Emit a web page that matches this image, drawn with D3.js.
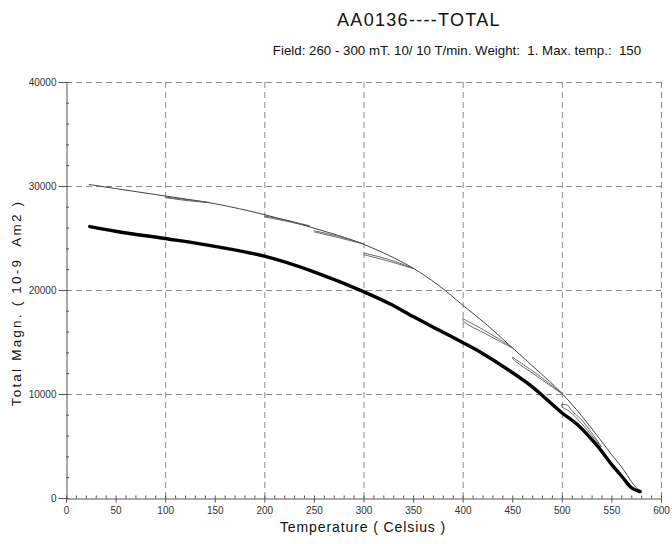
<!DOCTYPE html>
<html>
<head>
<meta charset="utf-8">
<script src="https://cdn.jsdelivr.net/npm/d3@7"></script>
<style>
  html, body { margin: 0; padding: 0; background: #fff; }
  svg { display: block; font-family: "Liberation Sans", Arial, sans-serif; }
</style>
</head>
<body>
<svg id="chart" width="672" height="544"></svg>
<script>
// ---- Data ----
const title = "AA0136----TOTAL";
const subtitle = "Field: 260 - 300 mT. 10/ 10 T/min. Weight:  1. Max. temp.:  150";
const xLabel = "Temperature ( Celsius )";
const yLabel = "Total Magn. ( 10-9  Am2 )";

const xTicks = [0, 50, 100, 150, 200, 250, 300, 350, 400, 450, 500, 550, 600];
const yTicks = [0, 10000, 20000, 30000, 40000];
const xGrid = [100, 200, 300, 400, 500, 600];
const yGrid = [10000, 20000, 30000, 40000];

// Thick curve (bold)
const thickT = [24, 50, 100, 150, 200, 250, 300, 327, 350, 377, 400, 420, 444, 468, 500, 518, 535, 552, 562, 569, 575, 579];
const thickM = [26100, 25650, 24950, 24200, 23250, 21750, 19840, 18650, 17450, 16100, 14950, 13900, 12450, 10850, 8200, 6860, 5100, 3010, 1900, 1090, 750, 620];

// Thin curve (main branch)
const thinT = [23, 50, 100, 150, 200, 250, 300, 325, 350, 375, 400, 425, 450, 475, 500, 520, 538, 550, 562, 570, 575, 580];
const thinM = [30150, 29750, 29040, 28300, 27250, 25950, 24400, 23350, 22100, 20500, 18550, 16600, 14450, 12300, 10070, 7900, 5700, 4200, 2750, 1600, 1000, 650];

// Thin loops (partial re-heating cycles): [T, M] points, out and back
const loop100 = [[100, 28940], [122, 28680], [145, 28400], [122, 28600], [100, 28880]];
const loop200 = [[200, 27120], [223, 26700], [246, 26150], [223, 26600], [200, 27040]];
const loop250 = [[250, 25700], [275, 25150], [300, 24430], [275, 25030], [250, 25600]];
const loop300 = [[300, 23560], [325, 22950], [350, 22080], [325, 22780], [300, 23400]];
const loop400 = [[400, 17250], [425, 15950], [451, 14400], [425, 15700], [401, 16980], [400, 17250]];
const loop450 = [[450, 13560], [475, 11900], [500, 10050], [475, 11700], [451, 13350], [450, 13560]];
const loop500 = [[500, 9000], [506, 8900], [510, 8400], [520, 7500], [540, 4900], [520, 7150], [508, 8300], [500, 8800], [500, 9000]];
const loops = [loop100, loop200, loop250, loop300, loop400, loop450, loop500];

// ---- Layout ----
const svg = d3.select("#chart");
const x = d3.scaleLinear().domain([0, 600]).range([66, 661]);
const y = d3.scaleLinear().domain([0, 40000]).range([498, 82]);

// Grid lines
const grid = svg.append("g").attr("stroke", "#8a8a8a").attr("stroke-width", 1).attr("stroke-dasharray", "6,4");
grid.selectAll("line.vg").data(xGrid).join("line")
  .attr("x1", d => x(d) + 0.5).attr("x2", d => x(d) + 0.5)
  .attr("y1", y(40000)).attr("y2", y(0));
grid.selectAll("line.hg").data(yGrid).join("line")
  .attr("x1", x(0)).attr("x2", x(600))
  .attr("y1", d => y(d) + 0.5).attr("y2", d => y(d) + 0.5);

// Axes
const axisColor = "#555";
const xAxis = svg.append("g").attr("transform", `translate(0,${y(0) + 0.5})`)
  .call(d3.axisBottom(x).tickValues(xTicks).tickSize(4).tickPadding(4).tickFormat(d3.format("d")));
const yAxis = svg.append("g").attr("transform", `translate(${x(0) + 0.5},0)`)
  .call(d3.axisLeft(y).tickValues(yTicks).tickSize(8).tickPadding(2).tickFormat(d3.format("d")));
[xAxis, yAxis].forEach(a => {
  a.select(".domain").attr("stroke", axisColor);
  a.selectAll(".tick line").attr("stroke", axisColor);
  a.selectAll(".tick text").attr("fill", "#333").style("font-size", "10px").style("font-family", "'Liberation Sans', Arial, sans-serif");
});

// Minor ticks
const minorX = d3.range(0, 601, 10);
svg.append("g").attr("stroke", axisColor).selectAll("line").data(minorX).join("line")
  .attr("x1", d => x(d) + 0.5).attr("x2", d => x(d) + 0.5)
  .attr("y1", y(0) - 2.5).attr("y2", y(0) + 0.5);
const minorY = d3.range(0, 40001, 2000);
svg.append("g").attr("stroke", axisColor).selectAll("line").data(minorY).join("line")
  .attr("x1", x(0)).attr("x2", x(0) + 3)
  .attr("y1", d => y(d) + 0.5).attr("y2", d => y(d) + 0.5);

// Curves
const line = d3.line().x(d => x(d[0])).y(d => y(d[1])).curve(d3.curveMonotoneX);
const loopLine = d3.line().x(d => x(d[0])).y(d => y(d[1])).curve(d3.curveCatmullRom.alpha(0.5));

const thinData = thinT.map((t, i) => [t, thinM[i]]);
const thickData = thickT.map((t, i) => [t, thickM[i]]);

svg.append("path").datum(thinData).attr("d", line)
  .attr("fill", "none").attr("stroke", "#444").attr("stroke-width", 1);
svg.append("g").selectAll("path").data(loops).join("path")
  .attr("d", loopLine).attr("fill", "none").attr("stroke", "#555").attr("stroke-width", 0.9);

svg.append("path").datum(thickData).attr("d", line)
  .attr("fill", "none").attr("stroke", "#000").attr("stroke-width", 3.4)
  .attr("stroke-linecap", "round").attr("stroke-linejoin", "round");

// Texts
svg.append("text").attr("x", 419).attr("y", 26).attr("text-anchor", "middle")
  .style("font-size", "18px").style("letter-spacing", "1.3px").attr("fill", "#111").text(title);
svg.append("text").attr("x", 457).attr("y", 55).attr("text-anchor", "middle")
  .style("font-size", "13.3px").style("white-space", "pre").attr("fill", "#111").text(subtitle);
svg.append("text").attr("x", 363).attr("y", 532).attr("text-anchor", "middle")
  .style("font-size", "14px").style("letter-spacing", "0.9px").attr("fill", "#111").text(xLabel);
svg.append("text").attr("transform", `translate(21,303) rotate(-90)`).attr("text-anchor", "middle")
  .style("font-size", "13.5px").style("letter-spacing", "2.2px").style("white-space", "pre").attr("fill", "#111").text(yLabel);
</script>
</body>
</html>
